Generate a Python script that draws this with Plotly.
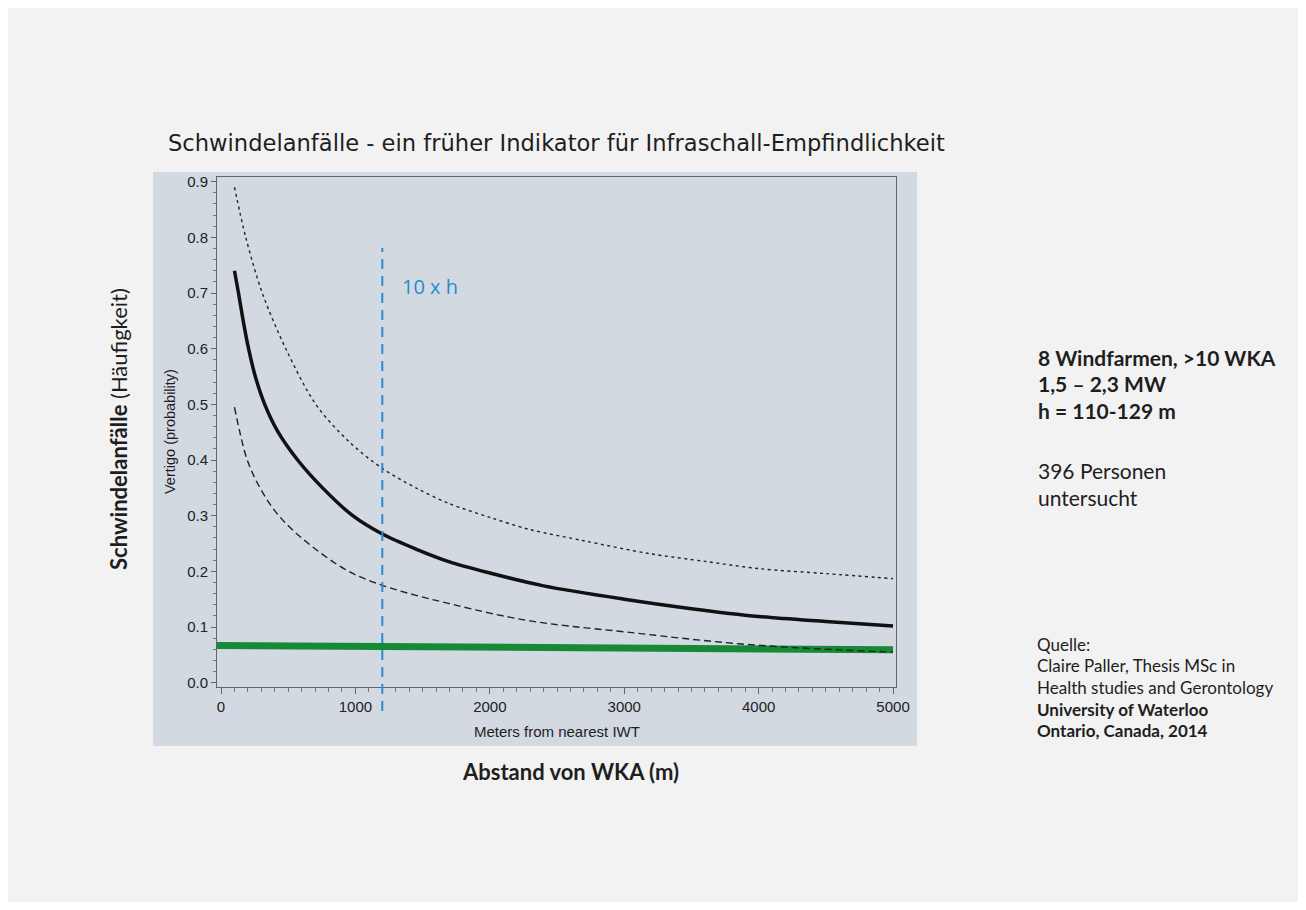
import plotly.graph_objects as go

# ---- data ----
dist_mid = [100, 130, 165, 205, 255, 325, 425, 570, 755, 980, 1200, 1450, 1700, 2000, 2400, 3000, 3500, 4000, 4500, 5000]
vert_mid = [0.74, 0.70, 0.65, 0.60, 0.55, 0.50, 0.45, 0.40, 0.35, 0.30, 0.267, 0.240, 0.217, 0.197, 0.174, 0.150, 0.133, 0.119, 0.110, 0.102]

dist_up = [100, 184, 307, 482, 705, 952, 1200, 1450, 1696, 2000, 2292, 2700, 3185, 3600, 4000, 4500, 5000]
vert_up = [0.89, 0.80, 0.70, 0.60, 0.50, 0.433, 0.385, 0.350, 0.322, 0.297, 0.2755, 0.255, 0.232, 0.218, 0.205, 0.196, 0.187]

dist_lo = [100, 140, 195, 290, 430, 650, 950, 1200, 1450, 1700, 2000, 2300, 2600, 3000, 3500, 3850, 4200, 4600, 5000]
vert_lo = [0.495, 0.45, 0.40, 0.35, 0.30, 0.25, 0.20, 0.175, 0.157, 0.142, 0.125, 0.111, 0.1015, 0.0915, 0.078, 0.070, 0.064, 0.059, 0.055]

dist_base = [-50, 5000]
vert_base = [0.067, 0.059]

marker_x = 1200          # 10 x h
marker_label = "10 x h"
x_ticks = [0, 1000, 2000, 3000, 4000, 5000]
y_ticks = [0.0, 0.1, 0.2, 0.3, 0.4, 0.5, 0.6, 0.7, 0.8, 0.9]

title_text = "Schwindelanfälle - ein früher Indikator für Infraschall-Empfindlichkeit"
info_bold = ["8 Windfarmen, >10 WKA", "1,5 – 2,3 MW", "h = 110-129 m"]
info_plain = ["396 Personen", "untersucht"]
source_lines = [("Quelle:", False), ("Claire Paller, Thesis MSc in", False),
                ("Health studies and Gerontology", False),
                ("University of Waterloo", True), ("Ontario, Canada, 2014", True)]

# ---- layout geometry (screen pixels; page body adds an 8px margin) ----
OFF = 8
W, H = 1306 - 2 * OFF, 910 - 2 * OFF
SL, SR, ST, SB = 217, 896, 177, 687          # plot area on screen
L, R, T, B = SL - OFF, SR - OFF, ST - OFF, SB - OFF


def px(x):
    return (x - SL) / (SR - SL)


def py(y):
    return (SB - y) / (SB - ST)


PANEL = "#d2d9e1"
PAGE = "#f2f2f2"
TXT = "#1e1e1e"

fig = go.Figure()

fig.add_trace(go.Scatter(x=dist_base, y=vert_base, mode="lines",
                         line=dict(color="#178a38", width=7), hoverinfo="skip"))
fig.add_trace(go.Scatter(x=dist_lo, y=vert_lo, mode="lines", line_shape="spline",
                         line=dict(color="#222", width=1.4, dash="7px,4px", smoothing=1.0), hoverinfo="skip"))
fig.add_trace(go.Scatter(x=dist_up, y=vert_up, mode="lines", line_shape="spline",
                         line=dict(color="#222", width=1.4, dash="3px,3.5px", smoothing=0.9), hoverinfo="skip"))
fig.add_trace(go.Scatter(x=dist_mid, y=vert_mid, mode="lines", line_shape="spline",
                         line=dict(color="#111", width=3.5, smoothing=0.9), hoverinfo="skip"))

shapes = [
    # grey panel
    dict(type="rect", xref="paper", yref="paper", x0=px(153), x1=px(917), y0=py(746), y1=py(172),
         fillcolor=PANEL, line=dict(width=0), layer="below"),
    # 10 x h line
    dict(type="line", xref="x", yref="paper", x0=marker_x, x1=marker_x, y0=py(711), y1=py(248),
         line=dict(color="#2a8bd0", width=2, dash="10px,7px"), layer="above"),
]

ann = []
ann.append(dict(text=title_text, x=px(556), y=py(143), xref="paper", yref="paper",
                showarrow=False, xanchor="center", yanchor="middle",
                font=dict(family="DejaVu Sans", size=22.6, color=TXT)))
ann.append(dict(text=marker_label, x=marker_x + 130, y=0.711, xref="x", yref="y",
                showarrow=False, xanchor="left", yanchor="middle",
                font=dict(family="Open Sans", size=20, color="#2a8bd0")))
ann.append(dict(text="Vertigo (probability)", x=px(170), y=py(432), xref="paper", yref="paper",
                showarrow=False, textangle=-90, xanchor="center", yanchor="middle",
                font=dict(family="Liberation Sans", size=14.5, color=TXT)))
ann.append(dict(text="Meters from nearest IWT", x=px(557), y=py(731), xref="paper", yref="paper",
                showarrow=False, xanchor="center", yanchor="middle",
                font=dict(family="Liberation Sans", size=15, color=TXT)))
ann.append(dict(text="<b>Schwindelanfälle</b> (Häufigkeit)", x=px(118), y=py(429), xref="paper", yref="paper",
                showarrow=False, textangle=-90, xanchor="center", yanchor="middle",
                font=dict(family="Lato", size=22, color=TXT)))
ann.append(dict(text="<b>Abstand von WKA (m)</b>", x=px(570), y=py(771), xref="paper", yref="paper",
                showarrow=False, xanchor="center", yanchor="middle",
                font=dict(family="Lato", size=22, color=TXT)))

for i, t in enumerate(info_bold):
    ann.append(dict(text="<b>%s</b>" % t, x=px(1036), y=py(357 + 26.5 * i), xref="paper", yref="paper",
                    showarrow=False, xanchor="left", yanchor="middle",
                    font=dict(family="Lato", size=21, color=TXT)))
for i, t in enumerate(info_plain):
    ann.append(dict(text=t, x=px(1036), y=py(470 + 27 * i), xref="paper", yref="paper",
                    showarrow=False, xanchor="left", yanchor="middle",
                    font=dict(family="Lato", size=21, color=TXT)))
for i, (t, b) in enumerate(source_lines):
    ann.append(dict(text=("<b>%s</b>" % t) if b else t, x=px(1035), y=py(644 + 21.7 * i),
                    xref="paper", yref="paper", showarrow=False, xanchor="left", yanchor="middle",
                    font=dict(family="Lato", size=17, color=TXT)))

fig.update_layout(
    width=W, height=H,
    margin=dict(l=L, r=W - R, t=T, b=H - B, pad=0),
    paper_bgcolor=PAGE, plot_bgcolor=PANEL,
    showlegend=False,
    shapes=shapes, annotations=ann,
    xaxis=dict(range=[-30, 5022], tickvals=x_ticks, ticktext=[str(v) for v in x_ticks],
               showgrid=False, zeroline=False, showline=True, linecolor="#666", linewidth=1,
               mirror=True, ticks="outside", ticklen=6, tickcolor="#666",
               minor=dict(dtick=100, tick0=0, ticks="outside", ticklen=4, tickcolor="#777"),
               tickfont=dict(family="Liberation Sans", size=15, color="#222")),
    yaxis=dict(range=[-0.0077, 0.9084], tickvals=y_ticks, ticktext=["%.1f" % v for v in y_ticks],
               showgrid=False, zeroline=False, showline=True, linecolor="#666", linewidth=1,
               mirror=True, ticks="outside", ticklen=5, tickcolor="#666",
               minor=dict(dtick=0.02, tick0=0, ticks="outside", ticklen=3, tickcolor="#777"),
               tickfont=dict(family="Liberation Sans", size=15, color="#222")),
)

fig.write_html("out.html")
